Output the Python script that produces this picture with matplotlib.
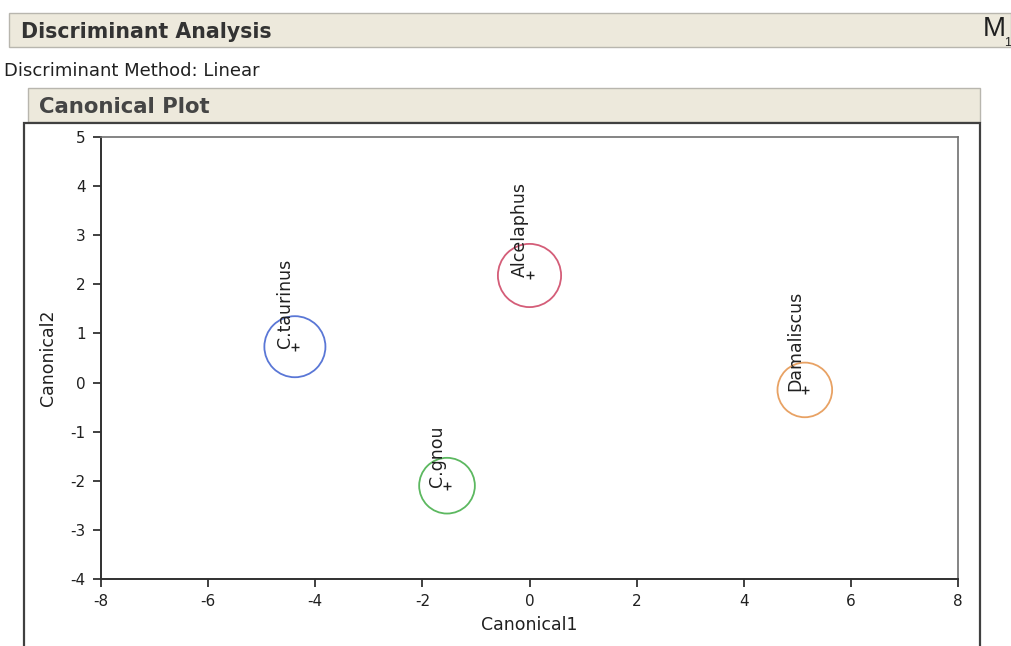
import matplotlib.pyplot as plt
from matplotlib.patches import Rectangle, Ellipse

plt.rcParams['font.family'] = ['DejaVu Sans']
plt.rcParams['axes.unicode_minus'] = False

# group means on the canonical axes and their 95% circle radius
groups = ['C.taurinus', 'Alcelaphus', 'Damaliscus', 'C.gnou']
canon1 = [-4.38, 0.0, 5.14, -1.54]
canon2 = [0.73, 2.18, -0.15, -2.10]
radius = [0.57, 0.59, 0.51, 0.52]
colors = ['#5a77d6', '#d45d78', '#e8a264', '#5cb860']

xticks = [-8, -6, -4, -2, 0, 2, 4, 6, 8]
yticks = [-4, -3, -2, -1, 0, 1, 2, 3, 4, 5]

W, H = 1011, 646


def fx(px):
    return px / W


def fy(py):
    return 1 - py / H


fig = plt.figure(figsize=(W / 100, H / 100), dpi=100)

# report header bars
beige = '#ede9dc'
fig.patches.append(Rectangle((fx(9), fy(47)), fx(1011) - fx(9), fy(13) - fy(47),
                             transform=fig.transFigure, facecolor=beige,
                             edgecolor='#b8b6ae', lw=1))
fig.text(fx(21), fy(32), 'Discriminant Analysis', fontsize=14.8, fontweight='bold',
         color='#333333', va='center')
fig.text(fx(983), fy(29), 'M', fontsize=20, color='#202020', va='center',
         family='Liberation Sans')
fig.text(fx(1004), fy(43), '1', fontsize=9, color='#202020', va='center',
         family='Liberation Sans')
fig.text(fx(4), fy(71), 'Discriminant Method: Linear', fontsize=13,
         color='#202020', va='center')

fig.patches.append(Rectangle((fx(28), fy(122)), fx(980) - fx(28), fy(88) - fy(122),
                             transform=fig.transFigure, facecolor=beige,
                             edgecolor='#b8b6ae', lw=1))
fig.text(fx(39), fy(107), 'Canonical Plot', fontsize=15.3, fontweight='bold',
         color='#454545', va='center')

# outer panel frame
fig.patches.append(Rectangle((fx(24), fy(660)), fx(980) - fx(24), fy(123) - fy(660),
                             transform=fig.transFigure, facecolor='none',
                             edgecolor='#404040', lw=1.6))

ax = fig.add_axes([fx(101), fy(579), fx(958) - fx(101), fy(137) - fy(579)])
ax.set_xlim(-8, 8)
ax.set_ylim(-4, 5)
ax.set_xticks(xticks)
ax.set_yticks(yticks)
ax.tick_params(direction='out', length=6, width=1.2, labelsize=11, colors='#202020',
               pad=5)
for s in ['left', 'bottom']:
    ax.spines[s].set_linewidth(1.4)
    ax.spines[s].set_color('#303030')
for s in ['top', 'right']:
    ax.spines[s].set_linewidth(1.2)
    ax.spines[s].set_color('#707070')
ax.set_xlabel('Canonical1', fontsize=12.5, color='#202020', labelpad=5)
ax.set_ylabel('Canonical2', fontsize=12.5, color='#202020', labelpad=10)

# make the circles look round on screen
fig.canvas.draw()
p0 = ax.transData.transform((0, 0))
p1 = ax.transData.transform((1, 1))
ratio = (p1[0] - p0[0]) / (p1[1] - p0[1])

for g, x, y, r, c in zip(groups, canon1, canon2, radius, colors):
    ax.add_patch(Ellipse((x, y), 2 * r, 2 * r * ratio, facecolor='none',
                         edgecolor=c, lw=1.3))
    ax.plot(x, y, marker='+', color='#202020', ms=6, mew=1)
    ax.annotate(g, (x, y), xytext=(-7, -1), textcoords='offset points',
                rotation=90, ha='center', va='bottom', fontsize=12.5,
                color='#202020')

fig.savefig('out.png', dpi=100)
